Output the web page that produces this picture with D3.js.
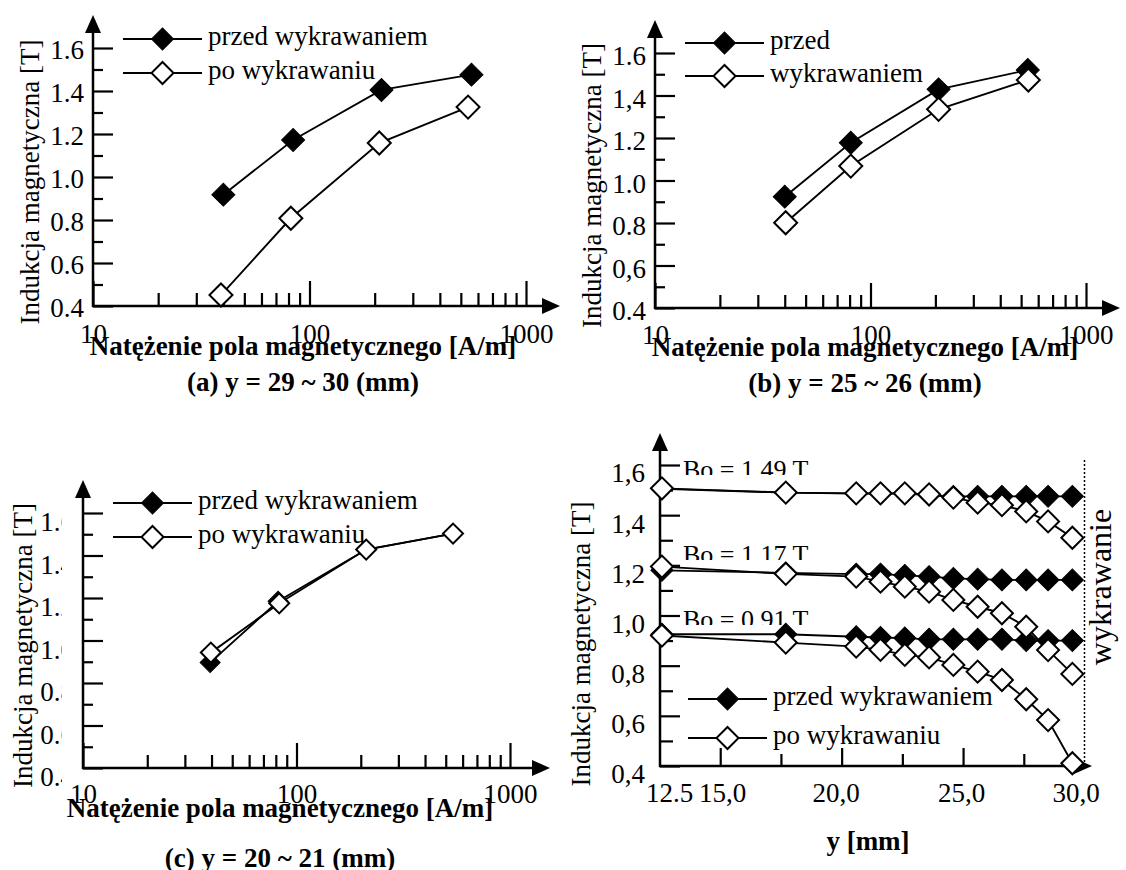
<!DOCTYPE html>
<html>
<head>
<meta charset="utf-8">
<script src="https://cdn.jsdelivr.net/npm/d3@7"></script>
<style>
  body { margin: 0; background: #fff; }
  svg text { font-family: "Times New Roman", "Liberation Serif", serif; font-size: 27px; fill: #000; }
  svg text.title { font-weight: bold; }
  svg text.big { font-size: 32px; }
  svg text.note { font-size: 26px; }
</style>
</head>
<body>
<svg id="chart" width="1126" height="870"></svg>
<script>
// ---- data ----
// (a) y = 29 ~ 30 mm
const hA_przed = [40, 84, 215, 560];
const bA_przed = [0.918, 1.172, 1.405, 1.476];
const hA_po = [39, 82, 210, 540];
const bA_po = [0.451, 0.808, 1.158, 1.325];
// (b) y = 25 ~ 26 mm
const hB_przed = [40, 81, 207, 537];
const bB_przed = [0.924, 1.178, 1.429, 1.52];
const hB_po = [40.4, 81, 207, 540];
const bB_po = [0.801, 1.068, 1.335, 1.473];
// (c) y = 20 ~ 21 mm
const hC_przed = [39.4, 82, 212, 541];
const bC_przed = [0.896, 1.185, 1.428, 1.503];
const hC_po = [39.7, 83, 212, 541];
const bC_po = [0.943, 1.175, 1.428, 1.503];
// (d) B along y, three levels of Bo
const posD = [12.6, 17.7, 20.6, 21.6, 22.6, 23.6, 24.6, 25.6, 26.6, 27.6, 28.5, 29.5];
const bD149_przed = [1.505, 1.49, 1.486, 1.486, 1.486, 1.48, 1.475, 1.475, 1.475, 1.475, 1.475, 1.475];
const bD149_po = [1.507, 1.49, 1.487, 1.487, 1.487, 1.483, 1.47, 1.45, 1.44, 1.415, 1.375, 1.31];
const bD117_przed = [1.18, 1.17, 1.165, 1.165, 1.16, 1.155, 1.148, 1.145, 1.142, 1.142, 1.142, 1.142];
const bD117_po = [1.195, 1.166, 1.155, 1.135, 1.115, 1.095, 1.062, 1.035, 1.009, 0.955, 0.862, 0.767];
const bD091_przed = [0.925, 0.925, 0.915, 0.912, 0.91, 0.905, 0.905, 0.905, 0.905, 0.9, 0.9, 0.9];
const bD091_po = [0.92, 0.892, 0.876, 0.863, 0.843, 0.833, 0.803, 0.776, 0.743, 0.666, 0.583, 0.411];

// ticks and labels
const yMajor = [0.4, 0.6, 0.8, 1.0, 1.2, 1.4, 1.6];
const yMinor = [0.5, 0.7, 0.9, 1.1, 1.3, 1.5];
const yLabA = ['0.4', '0.6', '0.8', '1.0', '1.2', '1.4', '1.6'];
const yLabB = ['0.4', '0,6', '0.8', '1.0', '1.2', '1,4', '1.6'];
const yLabD = ['0,4', '0,6', '0,8', '1,0', '1,2', '1,4', '1,6'];
const hMajor = [10, 100, 1000];
const hMinor = [20, 30, 40, 50, 60, 70, 80, 90, 200, 300, 400, 500, 600, 700, 800, 900];
const yPosMajor = [15, 20, 25];
const yPosMinor = [17.5, 22.5, 27.5];
const yPosLabels = [12.5, 15, 20, 25, 30];
const yPosLabelText = ['12.5', '15,0', '20,0', '25,0', '30,0'];

const svg = d3.select('#chart');

function styleAxis(sel) {
  sel.select('.domain').remove();
  sel.selectAll('line').attr('stroke', '#000').attr('stroke-width', 2.2);
}

function axesLines(g, left, bottom, top, right) {
  g.append('line').attr('x1', left).attr('x2', left).attr('y1', bottom + 1).attr('y2', top + 14)
    .attr('stroke', '#000').attr('stroke-width', 2.5);
  g.append('path').attr('d', `M${left},${top}l-8,18h16z`);
  g.append('line').attr('x1', left - 1).attr('x2', right - 14).attr('y1', bottom).attr('y2', bottom)
    .attr('stroke', '#000').attr('stroke-width', 2.5);
  g.append('path').attr('d', `M${right},${bottom}l-18,-8v16z`);
}

function series(g, x, y, xs, ys, r, filled) {
  const pts = xs.map((v, i) => [x(v), y(ys[i])]);
  g.append('path').attr('d', d3.line()(pts))
    .attr('fill', 'none').attr('stroke', '#000').attr('stroke-width', 1.9);
  g.selectAll(null).data(pts).join('path')
    .attr('transform', d => `translate(${d[0]},${d[1]}) rotate(45)`)
    .attr('d', d3.symbol(d3.symbolSquare, 2 * r * r))
    .attr('fill', filled ? '#000' : '#fff')
    .attr('stroke', '#000').attr('stroke-width', filled ? 1 : 2);
}

function legendRow(g, x1, x2, yy, r, filled, label) {
  g.append('line').attr('x1', x1).attr('x2', x2).attr('y1', yy).attr('y2', yy)
    .attr('stroke', '#000').attr('stroke-width', 2);
  g.append('path')
    .attr('transform', `translate(${(x1 + x2) / 2},${yy}) rotate(45)`)
    .attr('d', d3.symbol(d3.symbolSquare, 2 * r * r))
    .attr('fill', filled ? '#000' : '#fff')
    .attr('stroke', '#000').attr('stroke-width', filled ? 1 : 2);
  g.append('text').attr('x', x2 + 6).attr('y', yy + 6).text(label);
}

function yTicks(g, y, left, majorLen, minorLen) {
  g.append('g').attr('transform', `translate(${left},0)`)
    .call(d3.axisLeft(y).tickValues(yMinor).tickSize(-minorLen).tickFormat(() => ''))
    .call(styleAxis);
  g.append('g').attr('transform', `translate(${left},0)`)
    .call(d3.axisLeft(y).tickValues(yMajor).tickSize(-majorLen).tickFormat(() => ''))
    .call(styleAxis);
}

function yTitle(g, cx, cy) {
  g.append('text').attr('transform', `translate(${cx},${cy}) rotate(-90)`)
    .attr('text-anchor', 'middle').attr('dy', '0.25em').text('Indukcja magnetyczna [T]');
}

let clipId = 0;
function logPanel(p) {
  const g = svg.append('g');
  const x = d3.scaleLog().domain([10, 1000]).range([p.left, p.right1000]);
  const y = d3.scaleLinear().domain([0.4, 1.6]).range([p.bottom, p.top16]);

  yTicks(g, y, p.left, 20, 10);

  // y tick labels
  const lab = g.append('g');
  if (p.clipX) {
    const id = 'clip' + (clipId++);
    svg.append('clipPath').attr('id', id).append('rect')
      .attr('x', 0).attr('y', 0).attr('width', p.clipX).attr('height', 870);
    lab.attr('clip-path', `url(#${id})`);
  }
  lab.selectAll('text').data(yMajor).join('text')
    .attr('x', p.left - 9).attr('y', d => y(d) + p.labShift)
    .attr('dy', '0.35em').attr('text-anchor', 'end')
    .text((d, i) => p.yLabels[i]);

  // x ticks (log)
  g.append('g').attr('transform', `translate(0,${p.bottom})`)
    .call(d3.axisBottom(x).tickValues(hMinor).tickSize(-13).tickFormat(() => ''))
    .call(styleAxis);
  g.append('g').attr('transform', `translate(0,${p.bottom})`)
    .call(d3.axisBottom(x).tickValues(hMajor).tickSize(-25).tickPadding(p.xPad).tickFormat(d3.format('d')))
    .call(styleAxis)
    .call(s => s.selectAll('text').attr('fill', '#000'));

  axesLines(g, p.left, p.bottom, p.arrowTop, p.arrowRight);

  legendRow(g, p.left + 30, p.left + 109, p.leg1, 11, true, p.legText[0]);
  legendRow(g, p.left + 30, p.left + 109, p.leg2, 11, false, p.legText[1]);

  series(g, x, y, p.hPrzed, p.bPrzed, p.r, true);
  series(g, x, y, p.hPo, p.bPo, p.r, false);

  yTitle(g, p.yTitleX, (p.bottom + p.top16) / 2 + 5);
  g.append('text').attr('class', 'title').attr('x', p.titleX).attr('y', p.titleY)
    .attr('text-anchor', 'middle').text('Natężenie pola magnetycznego [A/m]');
  g.append('text').attr('class', 'title').attr('x', p.titleX).attr('y', p.capY)
    .attr('text-anchor', 'middle').text(p.caption);
}

logPanel({
  left: 93, right1000: 526, bottom: 306, top16: 48, arrowTop: 15, arrowRight: 560,
  yLabels: yLabA, labShift: 2, xPad: 18, leg1: 39, leg2: 73, r: 11.5,
  legText: ['przed wykrawaniem', 'po wykrawaniu'],
  hPrzed: hA_przed, bPrzed: bA_przed, hPo: hA_po, bPo: bA_po,
  yTitleX: 32, titleX: 303, titleY: 355, capY: 391, caption: '(a) y = 29 ~ 30 (mm)'
});

logPanel({
  left: 655, right1000: 1086, bottom: 308, top16: 53, arrowTop: 20, arrowRight: 1120,
  yLabels: yLabB, labShift: 3, xPad: 17, leg1: 43, leg2: 76, r: 11.5,
  legText: ['przed', 'wykrawaniem'],
  hPrzed: hB_przed, bPrzed: bB_przed, hPo: hB_po, bPo: bB_po,
  yTitleX: 594, titleX: 865, titleY: 356, capY: 392, caption: '(b) y = 25 ~ 26 (mm)'
});

logPanel({
  left: 83, right1000: 510, bottom: 768, top16: 513, arrowTop: 480, arrowRight: 550,
  yLabels: yLabA, labShift: 9, xPad: 16, leg1: 503, leg2: 537, r: 10, clipX: 62,
  legText: ['przed wykrawaniem', 'po wykrawaniu'],
  hPrzed: hC_przed, bPrzed: bC_przed, hPo: hC_po, bPo: bC_po,
  yTitleX: 25, titleX: 280, titleY: 817, capY: 867, caption: '(c) y = 20 ~ 21 (mm)'
});

// ---- panel (d) ----
(function () {
  const g = svg.append('g');
  const left = 660, bottom = 766;
  const x = d3.scaleLinear().domain([12.5, 30]).range([659.5, 1084.5]);
  const y = d3.scaleLinear().domain([0.4, 1.6]).range([bottom, 465]);
  // label nudges, as placed in the original
  const labDx = [-14, 2, -6, -2, -9];

  yTicks(g, y, left, 20, 13);
  g.append('g').selectAll('text').data(yMajor).join('text')
    .attr('x', left - 15).attr('y', d => y(d) + 8)
    .attr('dy', '0.35em').attr('text-anchor', 'end')
    .text((d, i) => yLabD[i]);

  g.append('g').attr('transform', `translate(0,${bottom})`)
    .call(d3.axisBottom(x).tickValues(yPosMinor).tickSize(-12).tickFormat(() => ''))
    .call(styleAxis);
  g.append('g').attr('transform', `translate(0,${bottom})`)
    .call(d3.axisBottom(x).tickValues(yPosMajor).tickSize(-18).tickFormat(() => ''))
    .call(styleAxis);
  g.append('g').attr('transform', `translate(0,${bottom})`)
    .call(d3.axisBottom(x).tickValues(yPosLabels).tickSize(0).tickPadding(17)
      .tickFormat((d, i) => yPosLabelText[i]))
    .call(styleAxis)
    .call(s => s.selectAll('text').attr('fill', '#000')
      .attr('x', (d, i) => labDx[i])
      .attr('text-anchor', (d, i) => i === 0 ? 'start' : 'middle'));

  // cut edge
  g.append('line').attr('x1', x(30)).attr('x2', x(30)).attr('y1', 460).attr('y2', bottom)
    .attr('stroke', '#000').attr('stroke-width', 1.5).attr('stroke-dasharray', '2,2');

  axesLines(g, left, bottom, 433, 1092);

  // Bo annotations, bottoms cut as in the scan
  const boText = ['Bo = 1.49 T', 'Bo = 1.17 T', 'Bo = 0.91 T'];
  const boBase = [478, 563, 628];
  boText.forEach((t, i) => {
    const id = 'clip' + (clipId++);
    svg.append('clipPath').attr('id', id).append('rect')
      .attr('x', 670).attr('y', boBase[i] - 30).attr('width', 240).attr('height', 27);
    g.append('text').attr('class', 'note').attr('x', 683).attr('y', boBase[i])
      .attr('clip-path', `url(#${id})`).text(t);
  });

  legendRow(g, 688, 767, 699, 11, true, 'przed wykrawaniem');
  legendRow(g, 688, 767, 738, 11, false, 'po wykrawaniu');

  series(g, x, y, posD, bD149_przed, 11, true);
  series(g, x, y, posD, bD117_przed, 11, true);
  series(g, x, y, posD, bD091_przed, 11, true);
  series(g, x, y, posD, bD149_po, 11, false);
  series(g, x, y, posD, bD117_po, 11, false);
  series(g, x, y, posD, bD091_po, 11, false);

  yTitle(g, 583, 644);
  g.append('text').attr('class', 'big').attr('transform', 'translate(1101,587) rotate(-90)')
    .attr('text-anchor', 'middle').attr('dy', '0.3em').text('wykrawanie');
  g.append('text').attr('class', 'title').attr('x', 868).attr('y', 850)
    .attr('text-anchor', 'middle').text('y [mm]');
})();
</script>
</body>
</html>
